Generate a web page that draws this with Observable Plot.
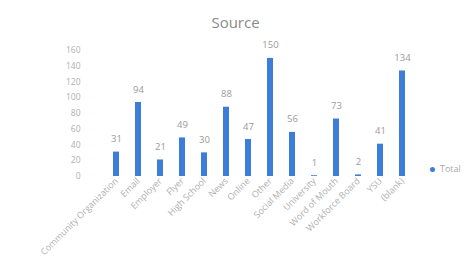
<!DOCTYPE html>
<html><head><meta charset="utf-8">
<script src="https://cdn.jsdelivr.net/npm/d3@7"></script>
<script src="https://cdn.jsdelivr.net/npm/@observablehq/plot@0.6"></script>
<style>
html,body{margin:0;padding:0;background:#fff;overflow:hidden;width:471px;height:279px}
#wrap{position:relative;width:471px;height:279px}
#title{position:absolute;left:0;width:471px;top:12px;text-align:center;font:15px "Open Sans",sans-serif;color:#8a8a8a}
#legend{position:absolute;left:430px;top:162px;font:9px "Open Sans",sans-serif;color:#aaa;white-space:nowrap}
#legend span{display:inline-block;width:5px;height:5px;border-radius:50%;background:#3b7dd8;margin-right:5px;vertical-align:middle}
</style></head>
<body><div id="wrap"><div id="title">Source</div><div id="legend"><span></span>Total</div></div>
<script>
const categories = ["Community Organization","Email","Employer","Flyer","High School","News","Online","Other","Social Media","University","Word of Mouth","Workforce Board","YSU","(blank)"];
const values = [31,94,21,49,30,88,47,150,56,1,73,2,41,134];
const yTicks = [0,20,40,60,80,100,120,140,160];
const data = categories.map((c,i)=>({category:c,value:values[i]}));
const chart = Plot.plot({
  width: 471, height: 279,
  marginTop: 50, marginBottom: 103, marginLeft: 93, marginRight: 46,
  style: {fontFamily: "'Open Sans', sans-serif", fontSize: "8.5px", background: "transparent"},
  x: {domain: categories, padding: 0.72, label: null},
  y: {domain: [0,160], label: null},
  marks: [
    Plot.axisY({ticks: yTicks, tickSize: 0, tickPadding: 13, label: null, fill: "#b0b0b0"}),
    Plot.axisX({tickSize: 0, tickRotate: -45, tickPadding: 3, label: null, fill: "#b0b0b0", fontSize: 9}),
    Plot.barY(data, {x: "category", y: "value", fill: "#3b7dd8"}),
    Plot.text(data, {x: "category", y: "value", text: d => String(d.value), dy: -13, fill: "#9a9a9a", fontSize: 9.5})
  ]
});
document.getElementById("wrap").prepend(chart);
chart.style.position = "absolute"; chart.style.left = "0"; chart.style.top = "0";
</script></body></html>
